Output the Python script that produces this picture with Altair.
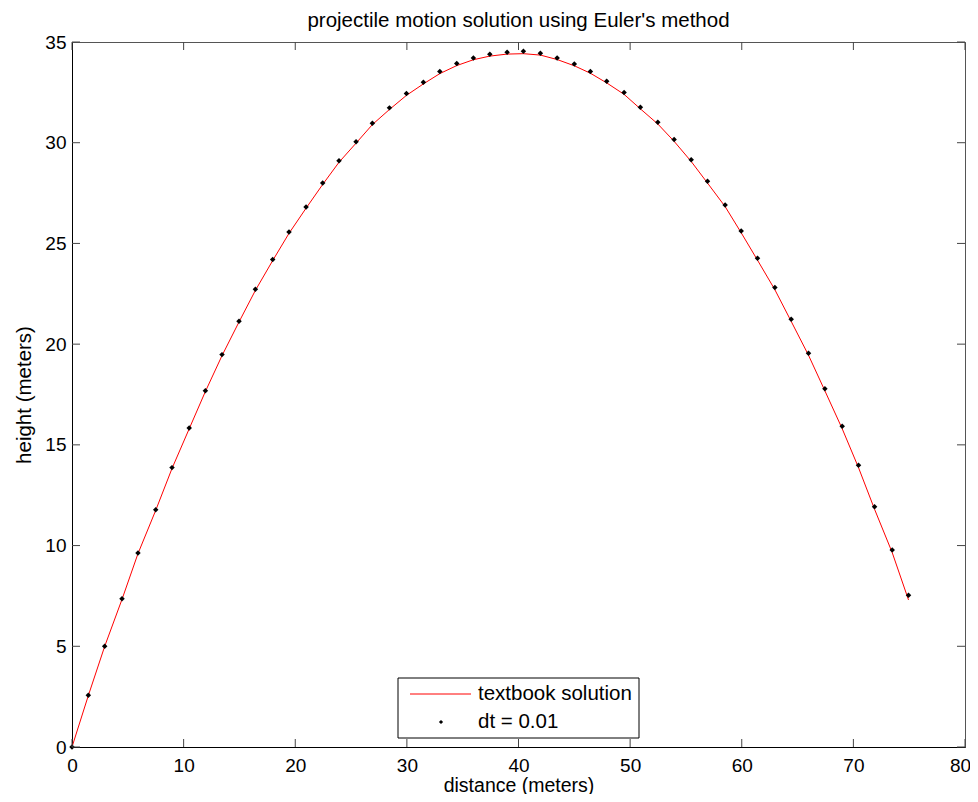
import altair as alt
import pandas as pd

# ---- data ----
dist_dots = [0, 1.46, 2.93, 4.48, 5.91, 7.5, 8.96, 10.5, 11.95, 13.44, 14.96, 16.43, 17.98,
             19.44, 20.97, 22.46, 23.92, 25.45, 26.91, 28.44, 29.96, 31.48, 32.95, 34.47,
             35.96, 37.43, 38.98, 40.44, 41.96, 43.46, 45.0, 46.44, 47.9, 49.46, 50.92,
             52.48, 53.94, 55.47, 56.93, 58.51, 59.95, 61.41, 62.97, 64.43, 65.98, 67.45,
             69.0, 70.46, 71.9, 73.48, 74.94]
height_dots = [0, 2.57, 5.0, 7.36, 9.63, 11.78, 13.87, 15.84, 17.69, 19.48, 21.14, 22.72,
               24.2, 25.57, 26.81, 28.0, 29.1, 30.05, 30.97, 31.73, 32.44, 33.0, 33.53, 33.93,
               34.21, 34.39, 34.49, 34.54, 34.44, 34.21, 33.91, 33.53, 33.05, 32.49, 31.76,
               31.02, 30.16, 29.15, 28.09, 26.91, 25.62, 24.26, 22.81, 21.24, 19.55, 17.79,
               15.92, 13.99, 11.93, 9.78, 7.53]
dist_line = [0, 1.46, 2.93, 4.48, 5.91, 7.5, 8.96, 10.5, 11.95, 13.44, 14.96, 16.43, 17.98,
             19.44, 20.97, 22.46, 23.92, 25.45, 26.91, 28.44, 29.96, 31.48, 32.95, 34.47,
             35.96, 37.43, 38.98, 40.44, 41.96, 43.46, 45.0, 46.44, 47.9, 49.46, 50.92,
             52.48, 53.94, 55.47, 56.93, 58.51, 59.95, 61.41, 62.97, 64.43, 65.98, 67.45,
             69.0, 70.46, 71.9, 73.48, 74.94]
height_line = [0, 2.55, 5.0, 7.33, 9.6, 11.75, 13.83, 15.8, 17.65, 19.43, 21.1, 22.67,
               24.15, 25.5, 26.75, 27.93, 29.03, 29.98, 30.9, 31.65, 32.35, 32.92, 33.43,
               33.83, 34.12, 34.3, 34.4, 34.42, 34.35, 34.13, 33.82, 33.45, 32.97, 32.4,
               31.68, 30.93, 30.07, 29.07, 28.0, 26.83, 25.53, 24.17, 22.7, 21.13, 19.45,
               17.68, 15.8, 13.87, 11.8, 9.65, 7.3]
x_ticks = [0, 10, 20, 30, 40, 50, 60, 70, 80]
y_ticks = [0, 5, 10, 15, 20, 25, 30, 35]
legend_labels = ["textbook solution", "dt = 0.01"]
title_text = "projectile motion solution using Euler's method"
x_title = "distance (meters)"
y_title = "height (meters)"

# ---- layout ----
W, H = 893, 705
FONT = "Liberation Sans"
FS_TICK = 19
FS = 20.5
TICK = 8

dots = pd.DataFrame({"distance": dist_dots, "height": height_dots})
line = pd.DataFrame({"distance": dist_line, "height": height_line})
xt = pd.DataFrame({"v": x_ticks})
yt = pd.DataFrame({"v": y_ticks})
one = pd.DataFrame({"label": legend_labels[:1]})

xs = alt.Scale(domain=[0, 80], nice=False, zero=False)
ys = alt.Scale(domain=[0, 35], nice=False, zero=False)

line_layer = alt.Chart(line).mark_line(color="#ff0000", strokeWidth=1).encode(
    x=alt.X("distance:Q", scale=xs,
            axis=alt.Axis(title=x_title, values=x_ticks, format="d", ticks=False,
                          labelFlush=False, labelPadding=9,
                          labelOffset={"condition": {"test": f"datum.value == {x_ticks[-1]}",
                                                     "value": -5}, "value": 0},
                          titleY=44, titleBaseline="alphabetic", titleFontSize=19.5,
                          domainColor="#000", grid=False)),
    y=alt.Y("height:Q", scale=ys,
            axis=alt.Axis(title=y_title, values=y_ticks, format="d", ticks=False,
                          labelFlush=False, labelPadding=6, titlePadding=10,
                          domainColor="#000", grid=False)),
)

dot_layer = alt.Chart(dots).mark_point(shape="diamond", filled=True, color="#000",
                                       size=30, opacity=1).encode(
    x=alt.X("distance:Q", scale=xs),
    y=alt.Y("height:Q", scale=ys),
)

tick_color = "#444"
bottom_ticks = alt.Chart(xt).mark_rule(color=tick_color).encode(
    x=alt.X("v:Q", scale=xs), y=alt.value(H), y2=alt.value(H - TICK))
top_ticks = alt.Chart(xt).mark_rule(color=tick_color).encode(
    x=alt.X("v:Q", scale=xs), y=alt.value(0), y2=alt.value(TICK))
left_ticks = alt.Chart(yt).mark_rule(color=tick_color).encode(
    y=alt.Y("v:Q", scale=ys), x=alt.value(0), x2=alt.value(TICK))
right_ticks = alt.Chart(yt).mark_rule(color=tick_color).encode(
    y=alt.Y("v:Q", scale=ys), x=alt.value(W), x2=alt.value(W - TICK))

# ---- legend ----
leg_box = alt.Chart(one).mark_rect(fill="white", stroke="#000", strokeWidth=1).encode(
    x=alt.value(326), x2=alt.value(567), y=alt.value(636), y2=alt.value(696))
leg_line = alt.Chart(one).mark_rule(color="#ff0000", strokeWidth=1).encode(
    x=alt.value(338), x2=alt.value(399), y=alt.value(652))
leg_dot = alt.Chart(one).mark_point(shape="diamond", filled=True, color="#000",
                                    size=18, opacity=1).encode(
    x=alt.value(369), y=alt.value(680))
leg_t1 = alt.Chart(one).mark_text(align="left", baseline="middle", font=FONT,
                                  fontSize=FS, color="#000", text=legend_labels[0]).encode(
    x=alt.value(406), y=alt.value(652))
leg_t2 = alt.Chart(one).mark_text(align="left", baseline="middle", font=FONT,
                                  fontSize=FS, color="#000", text=legend_labels[1]).encode(
    x=alt.value(406), y=alt.value(680))

chart = alt.layer(
    line_layer, dot_layer, bottom_ticks, top_ticks, left_ticks, right_ticks,
    leg_box, leg_line, leg_dot, leg_t1, leg_t2,
).properties(
    width=W, height=H,
    title=alt.TitleParams(title_text, font=FONT, fontSize=FS, fontWeight="normal",
                          color="#000", anchor="middle", offset=2),
    autosize=alt.AutoSizeParams(type="none"),
    padding={"left": 64, "top": 34, "right": 5, "bottom": 47},
).configure_view(
    stroke="#555", strokeWidth=1
).configure_axis(
    labelFont=FONT, titleFont=FONT, labelFontSize=FS_TICK, titleFontSize=FS,
    labelColor="#000", titleColor="#000", titleFontWeight="normal",
)

chart.save("out.html", embed_options={"renderer": "svg", "actions": False})
